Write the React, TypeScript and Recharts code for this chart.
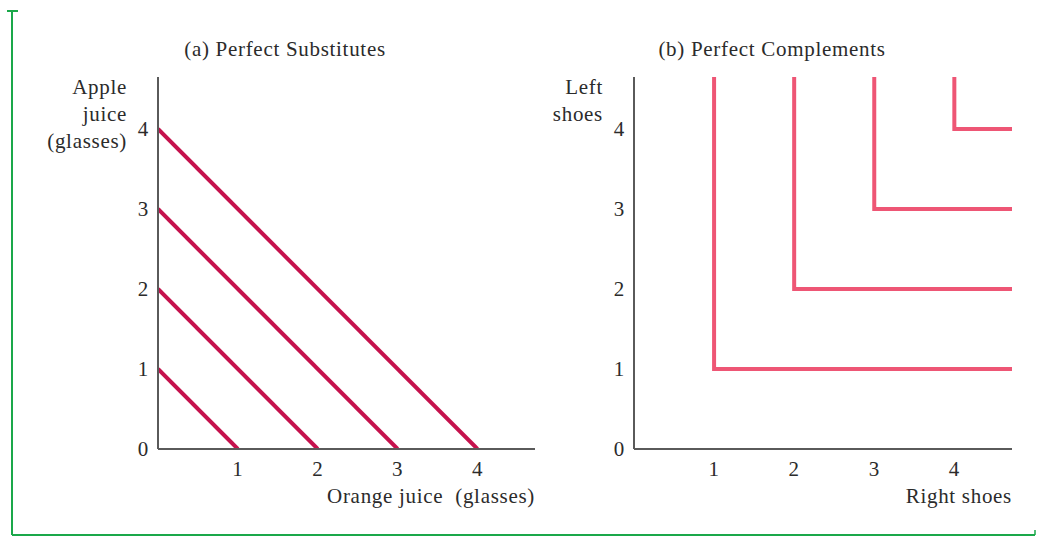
import { Label, Line, LineChart, XAxis, YAxis } from 'recharts'

const FONT = '"Liberation Serif", "Times New Roman", serif'
const TEXT = '#2b2b2b'
const AXIS = '#5a5a5a'

// budget levels for the two panels
const substituteLevels = [1, 2, 3, 4]
const complementLevels = [1, 2, 3, 4]
const xTicks = [1, 2, 3, 4]
const yTicks = [0, 1, 2, 3, 4]
const X_MAX = 4.72
const Y_MAX = 4.65

const substituteLines = substituteLevels.map((k) => [
  { x: 0, y: k },
  { x: k, y: 0 },
])
const complementLines = complementLevels.map((k) => [
  { x: k, y: Y_MAX },
  { x: k, y: k },
  { x: X_MAX, y: k },
])

const fontProps = { fontFamily: FONT, fontSize: 21, fill: TEXT, letterSpacing: 0.7 }

function XTick({ x, y, payload }: any) {
  return (
    <text x={x} y={y + 27} textAnchor="middle" {...fontProps}>
      {payload.value}
    </text>
  )
}

function YTick({ x, y, payload }: any) {
  return (
    <text x={x - 9} y={y + 7} textAnchor="end" {...fontProps}>
      {payload.value}
    </text>
  )
}

function StackLabel({ viewBox, lines, gap }: any) {
  const right = viewBox.x + viewBox.width - gap
  return (
    <g>
      {lines.map((t: string, i: number) => (
        <text key={t} x={right} y={viewBox.y + 17 + i * 27} textAnchor="end" {...fontProps}>
          {t}
        </text>
      ))}
    </g>
  )
}

function XLabel({ viewBox, text, title, titleX }: any) {
  const right = viewBox.x + viewBox.width
  return (
    <g>
      <text x={right} y={viewBox.y + 54} textAnchor="end" style={{ whiteSpace: 'pre' }} {...fontProps}>
        {text}
      </text>
      <text x={titleX} y={56} textAnchor="middle" {...fontProps}>
        {title}
      </text>
    </g>
  )
}

const margin = { top: 77, right: 25, bottom: 57, left: 0 }

function Axes({ xLabel, yLabel, title, titleX, yGap }: any) {
  return [
    <XAxis
      key="x"
      type="number"
      dataKey="x"
      domain={[0, X_MAX]}
      ticks={xTicks}
      tick={<XTick />}
      tickLine={false}
      tickSize={0}
      tickMargin={0}
      height={30}
      axisLine={{ stroke: AXIS, strokeWidth: 2 }}
      allowDataOverflow
    >
      <Label content={(p: any) => <XLabel {...p} text={xLabel} title={title} titleX={titleX} />} />
    </XAxis>,
    <YAxis
      key="y"
      type="number"
      dataKey="y"
      domain={[0, Y_MAX]}
      ticks={yTicks}
      tick={<YTick />}
      tickLine={false}
      tickSize={0}
      tickMargin={0}
      width={40}
      axisLine={{ stroke: AXIS, strokeWidth: 2 }}
      allowDataOverflow
    >
      <Label content={(p: any) => <StackLabel {...p} lines={yLabel} gap={yGap} />} />
    </YAxis>,
  ]
}

export default function App() {
  return (
    <div style={{ position: 'absolute', left: 0, top: 0, width: 1037, height: 536, background: '#fff' }}>
      <svg width={1037} height={536} style={{ position: 'absolute', left: 0, top: 0 }}>
        <line x1={12} y1={10} x2={12} y2={535} stroke="#1aa84a" strokeWidth={2} />
        <line x1={7} y1={11} x2={18} y2={11} stroke="#1aa84a" strokeWidth={2} />
        <line x1={12} y1={535} x2={1035} y2={535} stroke="#1aa84a" strokeWidth={2} />
        <line x1={1035} y1={530} x2={1035} y2={535} stroke="#1aa84a" strokeWidth={1.5} />
      </svg>

      <div style={{ position: 'absolute', left: 0, top: 0 }}>
        <LineChart width={560} height={536} margin={{ ...margin, left: 118 }}>
          {Axes({
            xLabel: 'Orange juice  (glasses)',
            yLabel: ['Apple', 'juice', '(glasses)'],
            title: '(a) Perfect Substitutes',
            titleX: 285,
            yGap: 31,
          })}
          {substituteLines.map((d, i) => (
            <Line
              key={i}
              data={d}
              dataKey="y"
              stroke="#c5124d"
              strokeWidth={4}
              dot={false}
              activeDot={false}
              isAnimationActive={false}
            />
          ))}
        </LineChart>
      </div>

      <div style={{ position: 'absolute', left: 540, top: 0 }}>
        <LineChart width={497} height={536} margin={{ ...margin, left: 54 }}>
          {Axes({
            xLabel: 'Right shoes',
            yLabel: ['Left', 'shoes'],
            title: '(b) Perfect Complements',
            titleX: 232,
            yGap: 31,
          })}
          {complementLines.map((d, i) => (
            <Line
              key={i}
              data={d}
              dataKey="y"
              stroke="#ee5675"
              strokeWidth={4}
              dot={false}
              activeDot={false}
              isAnimationActive={false}
            />
          ))}
        </LineChart>
      </div>
    </div>
  )
}
